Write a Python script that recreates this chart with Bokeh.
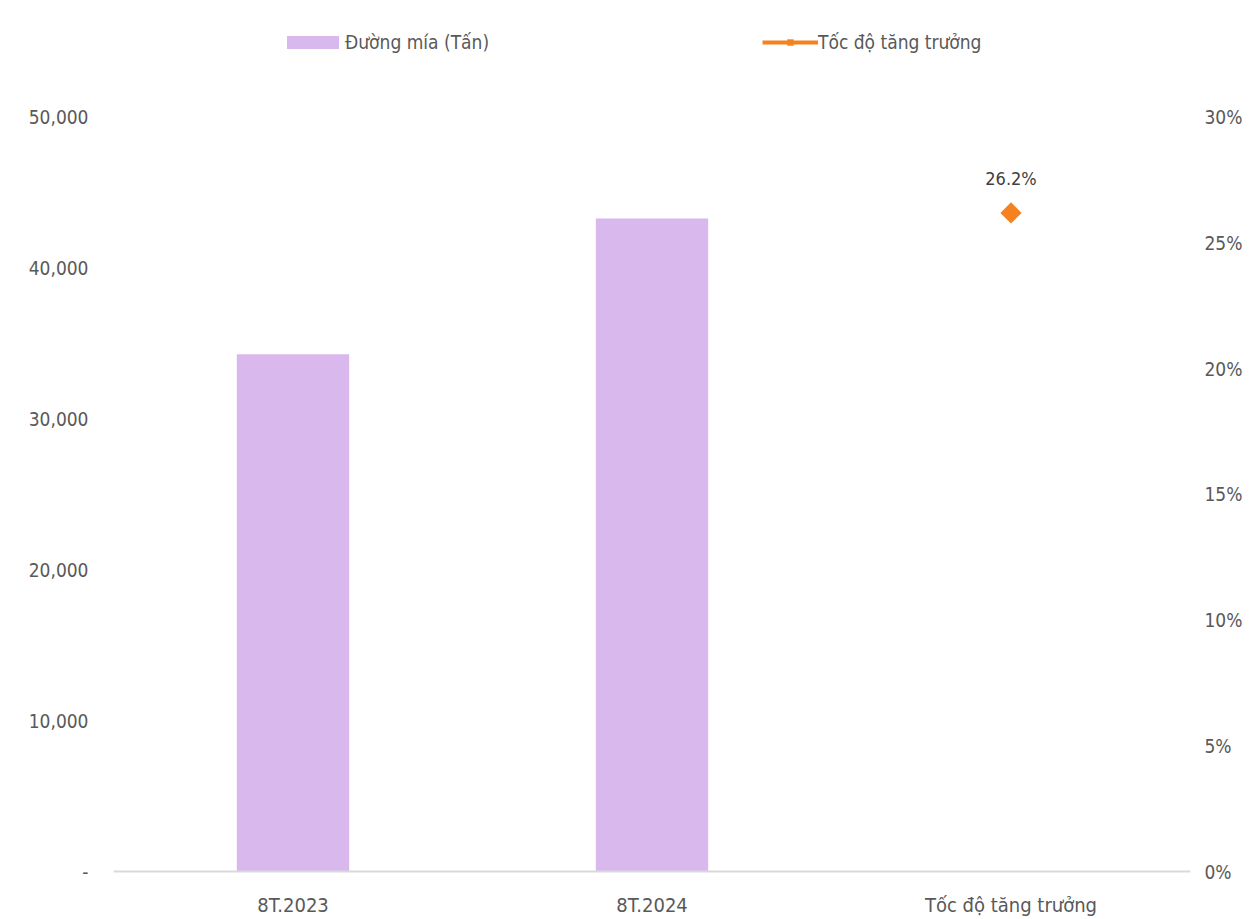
from bokeh.plotting import figure
from bokeh.models import (FactorRange, Range1d, LinearAxis, FixedTicker, Legend, LegendItem,
                          ColumnDataSource, LabelSet)
from bokeh.core.properties import value
from bokeh.embed import file_html
from bokeh.resources import INLINE
import math

categories = ["8T.2023", "8T.2024", "Tốc độ tăng trưởng"]
sugar_tons = [34300, 43300]
growth_pct = [26.2]
left_ticks = [0, 10000, 20000, 30000, 40000, 50000]
left_labels = ["-", "10,000", "20,000", "30,000", "40,000", "50,000"]
right_ticks = [0, 5, 10, 15, 20, 25, 30]
right_labels = ["0%", "5%", "10%", "15%", "20%", "25%", "30%"]

FONT = "DejaVu Sans Condensed"
TXT = "#595959"
PURPLE = "#D9B8EE"
ORANGE = "#F5821F"

W, H = 1251, 919
FL, FR, FB = 113, 61, 47
frame_h = H - FB
left_end = 50000 / 755 * frame_h
right_end = 30 / 755 * frame_h

p = figure(width=W, height=H, x_range=FactorRange(*categories),
           y_range=Range1d(0, left_end), output_backend="svg", toolbar_location=None,
           min_border_left=FL, min_border_right=FR, min_border_top=0, min_border_bottom=FB)
p.outline_line_color = None
p.xgrid.visible = False
p.ygrid.visible = False
p.background_fill_color = "white"
p.border_fill_color = "white"
p.extra_y_ranges = {"pct": Range1d(0, right_end)}

bars = p.vbar(x=categories[:2], top=sugar_tons, width=0.313, color=PURPLE, line_color=None)

gsrc = ColumnDataSource(dict(x=categories[2:], y=growth_pct,
                             lbl=[f"{v:.1f}%" for v in growth_pct]))
line = p.line(x="x", y="y", source=gsrc, y_range_name="pct", line_color=ORANGE, line_width=4)
pts = p.scatter(x="x", y="y", source=gsrc, y_range_name="pct", marker="square",
                angle=math.pi / 4, size=15, color=ORANGE, line_color=None)
labels = LabelSet(x="x", y="y", text="lbl", source=gsrc, y_range_name="pct",
                  y_offset=34, text_align="center", text_baseline="middle",
                  text_font=value(FONT), text_font_size=value("18px"), text_color="#404040")
p.add_layout(labels)

# axes
xa = p.xaxis[0]
xa.axis_line_color = "#D9D9D9"
xa.axis_line_width = 2
xa.major_tick_line_color = None
xa.minor_tick_line_color = None
xa.major_label_standoff = 15
xa.major_label_text_font = FONT
xa.major_label_text_font_size = "20px"
xa.major_label_text_color = TXT

ya = p.yaxis[0]
ya.ticker = FixedTicker(ticks=left_ticks)
ya.major_label_overrides = dict(zip(left_ticks, left_labels))
ya.axis_line_color = None
ya.major_tick_line_color = None
ya.minor_tick_line_color = None
ya.major_label_standoff = 19
ya.major_label_text_font = FONT
ya.major_label_text_font_size = "19px"
ya.major_label_text_color = TXT

ra = LinearAxis(y_range_name="pct", ticker=FixedTicker(ticks=right_ticks))
ra.major_label_overrides = dict(zip(right_ticks, right_labels))
ra.axis_line_color = None
ra.major_tick_line_color = None
ra.minor_tick_line_color = None
ra.major_label_standoff = 8
ra.major_label_text_font = FONT
ra.major_label_text_font_size = "19px"
ra.major_label_text_color = TXT
p.add_layout(ra, "right")

def mk_legend(items, loc, gw):
    lg = Legend(items=items, location=loc, orientation="horizontal", padding=0, margin=0,
                spacing=0, label_standoff=0, glyph_width=gw, glyph_height=16,
                label_height=20, border_line_color=None, background_fill_alpha=0,
                label_text_font=FONT, label_text_font_size="19px", label_text_color=TXT)
    return lg

lg1 = mk_legend([LegendItem(label="Đường mía (Tấn)", renderers=[bars])], (167, 818), 65)
lg2 = mk_legend([LegendItem(label="Tốc độ tăng trưởng", renderers=[line, pts])], (649, 818), 56)
p.add_layout(lg1)
p.add_layout(lg2)

open("out.html", "w").write(file_html(p, INLINE))
